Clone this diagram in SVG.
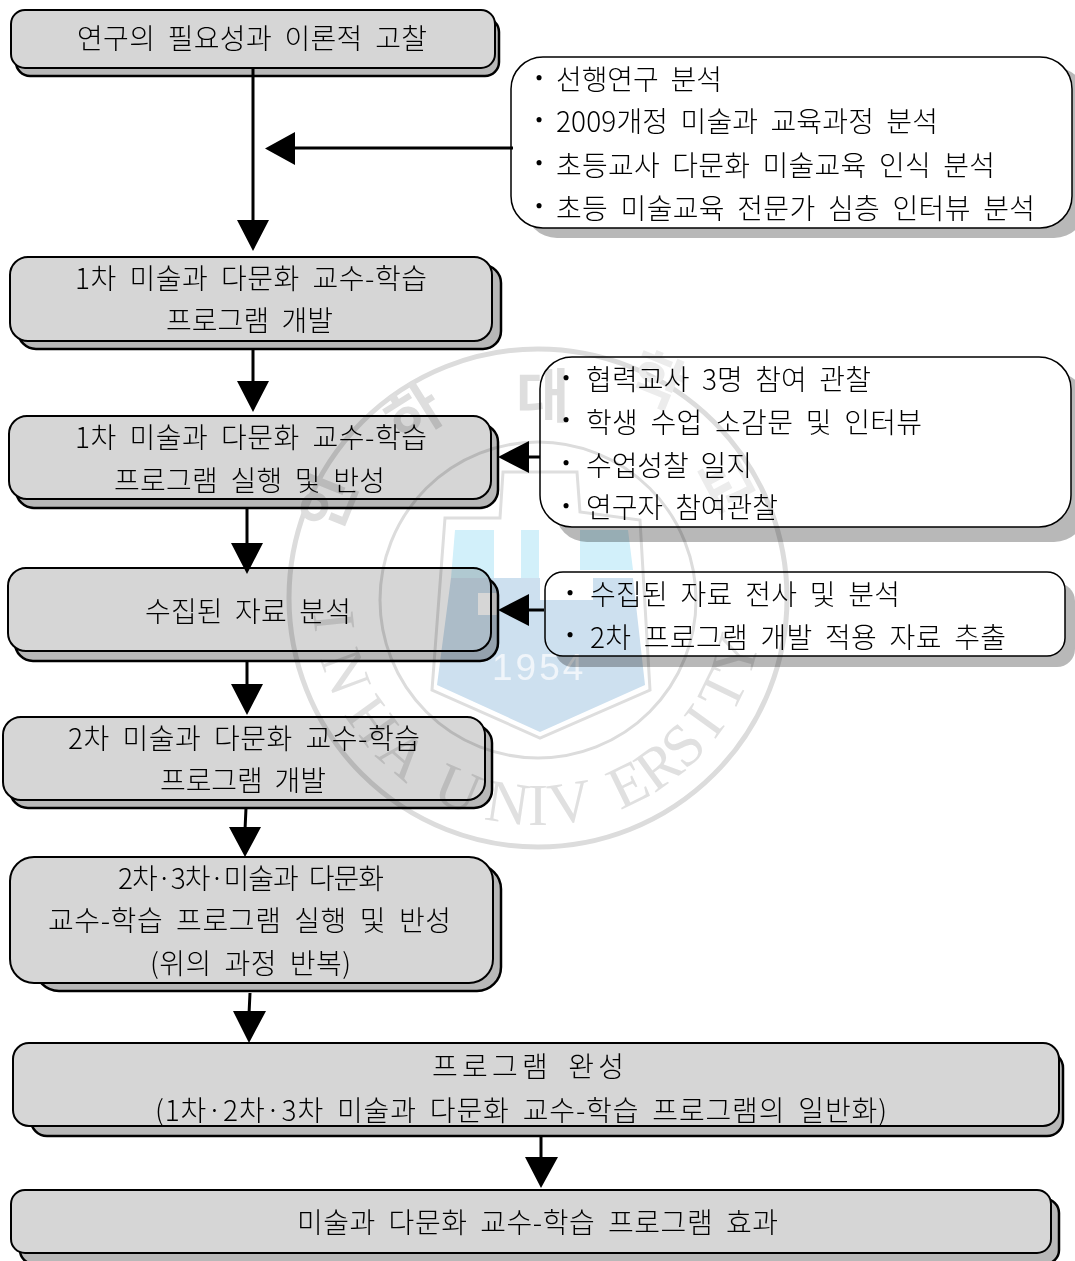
<svg xmlns="http://www.w3.org/2000/svg" width="1075" height="1261" viewBox="0 0 1075 1261">
<defs>
<style>
text{font-family:"Noto Sans CJK KR","Noto Sans",sans-serif;font-size:28px;font-weight:300;fill:#000;letter-spacing:0;word-spacing:6px;white-space:pre}
.sh{fill:#b8b8b8;stroke:#000;stroke-width:2.5}
.fr{fill:#d6d6d6;stroke:#000;stroke-width:2}
.ws{fill:#b8b8b8;stroke:none}
.wf{fill:#fff;stroke:#000;stroke-width:1.5}
.ln{stroke:#000;stroke-width:3;fill:none}
.ah{fill:#000;stroke:none}
.wmr{fill:none;stroke:#dcdcdc}
.wmt{font-family:"Liberation Serif",serif;font-size:60px;fill:#e0e0e0;text-anchor:middle;word-spacing:0;font-weight:400}
.wmk{font-size:58px;fill:#dedede;word-spacing:0;font-weight:700}
.b{font-weight:900;font-size:24px;text-anchor:middle}
</style>
</defs>
<g id="node-1"><rect class="sh" x="16" y="18" width="483" height="58" rx="14"/><rect class="fr" x="11" y="10" width="484" height="58" rx="14"/><text x="77" y="49" textLength="350">연구의 필요성과 이론적 고찰</text></g>
<g id="node-2"><rect class="sh" x="18" y="265" width="483" height="84" rx="18"/><rect class="fr" x="10" y="257" width="482" height="84" rx="18"/><text x="75" y="289" textLength="352">1차 미술과 다문화 교수-학습</text><text x="166" y="331" textLength="167">프로그램 개발</text></g>
<g id="node-3"><rect class="sh" x="16" y="424" width="482" height="84" rx="18"/><rect class="fr" x="9" y="416" width="482" height="83" rx="18"/><text x="75" y="448" textLength="352">1차 미술과 다문화 교수-학습</text><text x="114" y="491" textLength="271">프로그램 실행 및 반성</text></g>
<g id="node-4"><rect class="sh" x="15" y="577" width="483" height="84" rx="18"/><rect class="fr" x="8" y="568" width="483" height="83" rx="18"/><text x="145" y="622" textLength="206">수집된 자료 분석</text></g>
<g id="node-5"><rect class="sh" x="10" y="725" width="482" height="83" rx="18"/><rect class="fr" x="3" y="717" width="482" height="83" rx="18"/><text x="68" y="749" textLength="352">2차 미술과 다문화 교수-학습</text><text x="160" y="791" textLength="166">프로그램 개발</text></g>
<g id="node-6"><rect class="sh" x="35" y="865" width="466" height="126" rx="24"/><rect class="fr" x="10" y="857" width="483" height="126" rx="24"/><text x="118" y="889" textLength="266">2차·3차·미술과 다문화</text><text x="48" y="931" textLength="403">교수-학습 프로그램 실행 및 반성</text><text x="150" y="974" textLength="201">(위의 과정 반복)</text></g>
<g id="node-7"><rect class="sh" x="31" y="1052" width="1032" height="84" rx="16"/><rect class="fr" x="13" y="1043" width="1046" height="83" rx="16"/><text x="432" y="1077" textLength="192">프로그램 완성</text><text x="155" y="1121" textLength="732">(1차·2차·3차 미술과 다문화 교수-학습 프로그램의 일반화)</text></g>
<g id="node-8"><rect class="sh" x="20" y="1199" width="1039" height="65" rx="14"/><rect class="fr" x="11" y="1190" width="1040" height="63" rx="14"/><text x="297" y="1233" textLength="481">미술과 다문화 교수-학습 프로그램 효과</text></g>
<g id="side-1"><rect class="ws" x="525" y="67" width="561" height="171" rx="32"/><rect class="wf" x="511" y="57" width="561" height="171" rx="32"/><text class="b" x="539" y="87">·</text><text x="556" y="90" textLength="166">선행연구 분석</text><text class="b" x="539" y="129">·</text><text x="556" y="132" textLength="382">2009개정 미술과 교육과정 분석</text><text class="b" x="539" y="172">·</text><text x="556" y="176" textLength="439">초등교사 다문화 미술교육 인식 분석</text><text class="b" x="539" y="215">·</text><text x="556" y="219" textLength="479">초등 미술교육 전문가 심층 인터뷰 분석</text></g>
<g id="side-2"><rect class="ws" x="555" y="372" width="531" height="170" rx="32"/><rect class="wf" x="540" y="357" width="531" height="170" rx="32"/><text class="b" x="566" y="387">·</text><text x="586" y="390" textLength="285">협력교사 3명 참여 관찰</text><text class="b" x="566" y="429">·</text><text x="586" y="433" textLength="336">학생 수업 소감문 및 인터뷰</text><text class="b" x="566" y="472">·</text><text x="586" y="476" textLength="166">수업성찰 일지</text><text class="b" x="566" y="515">·</text><text x="586" y="518" textLength="192">연구자 참여관찰</text></g>
<g id="side-3"><rect class="ws" x="555" y="583" width="520" height="84" rx="18"/><rect class="wf" x="545" y="572" width="520" height="84" rx="18"/><text class="b" x="570" y="602">·</text><text x="590" y="605" textLength="310">수집된 자료 전사 및 분석</text><text class="b" x="570" y="644">·</text><text x="590" y="648" textLength="416">2차 프로그램 개발 적용 자료 추출</text></g>
<g id="connectors">
<path class="ln" d="M253 68V222M513 148H292M253 349V384M540 457H528M544 610H528M247 508V545M247 661V688M246 808L245 830M250 993L249 1014M541 1136V1160"/>
<path class="ah" d="M237 220H269L253 251ZM295 132V165L265 148.500ZM237 381H269L253 412ZM529 441V473L498 457ZM529 594V626L498 610ZM231 543H263L247 574ZM231 684H263L247 715ZM229 827H261L245 857ZM233 1011H266L249 1043ZM525 1157H558L541 1188Z"/>
</g>
<g id="watermark" style="mix-blend-mode:multiply">
<circle class="wmr" cx="538" cy="598" r="249" stroke-width="5"/>
<circle class="wmr" cx="538" cy="600" r="158" stroke-width="3"/>
<path d="M445 518H500L503 472H577L580 512L640 520L650 690L540 738L432 690Z" fill="none" stroke="#dedede" stroke-width="3"/>
<path fill-rule="evenodd" d="M451 578H494V578H521H540H593H633L645 685L540 732L437 685ZM478 593H498V615H478ZM540 578H593V600H540Z" fill="#cde0ef"/>
<path d="M455 530H494V578H451ZM521 530H539V578H521ZM580 530H628L633 570H580Z" fill="#d2f0fa"/>
<text x="492" y="680" style="font-family:'Liberation Sans',sans-serif;font-size:37px;fill:#f0f5fa;letter-spacing:3px;font-weight:400">1954</text>
<text class="wmk" x="516" y="417">대</text>
<text class="wmk" transform="translate(402 445) rotate(-32)">하</text>
<text class="wmk" transform="translate(337 535) rotate(-68)">인</text>
<text class="wmk" transform="translate(625 390) rotate(22)" style="fill:#ececec">학</text>
<text class="wmk" transform="translate(695 470) rotate(62)" style="fill:#ececec">교</text>
<g id="wm-letters">
<text class="wmt" transform="translate(314.200 623.500) rotate(84)">I</text>
<text class="wmt" transform="translate(327.200 678.800) rotate(69.500)">N</text>
<text class="wmt" transform="translate(356 732) rotate(54)">H</text>
<text class="wmt" transform="translate(390.400 769.800) rotate(41)">A</text>
<text class="wmt" transform="translate(450.100 807.100) rotate(23)">U</text>
<text class="wmt" transform="translate(504.700 822.500) rotate(8.500)">N</text>
<text class="wmt" transform="translate(538 825)">I</text>
<text class="wmt" transform="translate(573.200 822.200) rotate(-9)">V</text>
<text class="wmt" transform="translate(636.600 802.200) rotate(-26)">E</text>
<text class="wmt" transform="translate(670.300 782) rotate(-36)">R</text>
<text class="wmt" transform="translate(697.100 759.100) rotate(-45)">S</text>
<text class="wmt" transform="translate(720 732.300) rotate(-54)">I</text>
<text class="wmt" transform="translate(740.200 698.600) rotate(-64)">T</text>
<text class="wmt" transform="translate(754.300 662) rotate(-74)">Y</text>
</g>
</g>
</svg>
